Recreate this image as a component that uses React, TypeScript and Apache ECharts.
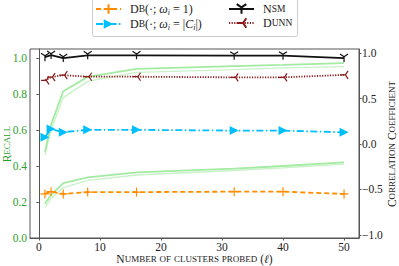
import React, { useEffect, useRef } from "react";
import * as echarts from "echarts";

const xValues = [1, 2, 4, 8, 16, 32, 40, 50];
const db1 = [-0.55, -0.525, -0.55, -0.53, -0.53, -0.525, -0.525, -0.55];
const dbC = [0.075, 0.165, 0.13, 0.155, 0.155, 0.147, 0.147, 0.128];
const nsm = [0.955, 0.978, 0.945, 0.975, 0.975, 0.972, 0.972, 0.945];
const dunn = [0.7, 0.735, 0.757, 0.74, 0.74, 0.733, 0.733, 0.76];
const recallHighA = [0.48, 0.63, 0.815, 0.895, 0.94, 0.955, 0.962, 0.972];
const recallHighB = [0.46, 0.6, 0.78, 0.87, 0.92, 0.935, 0.945, 0.952];
const recallLowA = [0.19, 0.24, 0.305, 0.337, 0.365, 0.385, 0.4, 0.42];
const recallLowB = [0.17, 0.22, 0.28, 0.32, 0.35, 0.375, 0.39, 0.41];
const xTicks = [0, 10, 20, 30, 40, 50];
const leftTicks = [0, 0.2, 0.4, 0.6, 0.8, 1.0];
const rightTicks = [-1, -0.5, 0, 0.5, 1];

const FONT = "Liberation Serif";

function sc(text: string): string {
  let out = "";
  let cur = "";
  let curStyle = "";
  const flush = () => {
    if (cur) out += `{${curStyle}|${cur}}`;
    cur = "";
  };
  for (const ch of text) {
    const isLower = ch >= "a" && ch <= "z";
    const st = isLower ? "s" : "c";
    if (st !== curStyle) {
      flush();
      curStyle = st;
    }
    cur += isLower ? ch.toUpperCase() : ch;
  }
  flush();
  return out;
}

const pair = (ys: number[]) => xValues.map((x, i) => [x, ys[i]]);

const legendNames: Record<string, string> = {
  db1: "{c|D}{s|B}{n|(·; }{m|ω}{sub|i}{n| = 1)}",
  dbC: "{c|D}{s|B}{n|(·; }{m|ω}{sub|i}{n| = |}{m|C}{sub|i}{n||)}",
  nsm: "{c|N}{s|SM}",
  dunn: "{c|D}{s|UNN}",
};

const legendRich = {
  c: { fontFamily: FONT, fontSize: 12, color: "#222", lineHeight: 14 },
  s: { fontFamily: FONT, fontSize: 9.5, color: "#222", lineHeight: 14 },
  n: { fontFamily: FONT, fontSize: 12, color: "#222", lineHeight: 14 },
  m: { fontFamily: FONT, fontSize: 12, fontStyle: "italic", color: "#222", lineHeight: 14 },
  sub: { fontFamily: FONT, fontSize: 8, fontStyle: "italic", color: "#222", lineHeight: 14, verticalAlign: "bottom" },
};

const nameRich = (color: string) => ({
  c: { fontFamily: FONT, fontSize: 11.5, fill: color, color, lineHeight: 9 },
  s: { fontFamily: FONT, fontSize: 9, fill: color, color, lineHeight: 9 },
  m: { fontFamily: FONT, fontSize: 11.5, fontStyle: "italic", fill: color, color, lineHeight: 9 },
});

const triDown = "path://M5,5L5,10M5,5L0.7,2.5M5,5L9.3,2.5";
const triLeft = "path://M5,5L0,5M5,5L7.5,0.7M5,5L7.5,9.3";

export default function App() {
  const ref = useRef<HTMLDivElement>(null);
  useEffect(() => {
    if (!ref.current) return;
    const chart = echarts.init(ref.current, undefined, { renderer: "svg" });
    const greenLine = (name: string, ys: number[], color: string, w: number) => ({
      name,
      type: "line",
      yAxisIndex: 0,
      data: pair(ys),
      showSymbol: false,
      symbol: "none",
      lineStyle: { color, width: w },
      z: 1,
      silent: true,
    });
    const legendCommon = {
      orient: "vertical",
      top: 3,
      padding: 0,
      itemGap: 2,
      itemWidth: 25,
      itemHeight: 12,
      formatter: (n: string) => legendNames[n],
      textStyle: { rich: legendRich, padding: [0, 0, 0, 4] },
      z: 6,
    };
    const axisName = (text: string, x: number, y: number, rot: number, color: string) => ({
      type: "text",
      x,
      y,
      rotation: rot,
      z: 6,
      style: {
        text,
        rich: nameRich(color),
        fill: color,
        lineHeight: 9,
        align: "center",
        verticalAlign: "middle",
      },
    });
    chart.setOption({
      animation: false,
      backgroundColor: "#fff",
      grid: {
        left: 30,
        right: 40,
        top: 49,
        bottom: 28,
        show: true,
        borderColor: "#555",
        borderWidth: 1,
        containLabel: false,
        outerBoundsMode: "none",
      },
      graphic: [
        {
          type: "rect",
          shape: { x: 92.5, y: -3, width: 205, height: 39.5, r: 2 },
          style: { fill: "#fff", stroke: "#ccc", lineWidth: 1 },
          z: 4,
        },
        axisName(sc("Number of clusters probed (") + "{m|ℓ}" + sc(")"), 194.5, 258.5, 0, "#222"),
        axisName(sc("Recall"), 7, 144, Math.PI / 2, "#2ca02c"),
        axisName(sc("Correlation Coefficient"), 391.5, 144, Math.PI / 2, "#222"),
      ],
      legend: [
        { ...legendCommon, data: ["db1", "dbC"], left: 95 },
        { ...legendCommon, data: ["nsm", "dunn"], left: 228 },
      ],
      xAxis: {
        type: "value",
        min: -1.45,
        max: 52.45,
        splitLine: { show: false },
        axisLine: { show: true, lineStyle: { color: "#555" } },
        axisTick: { show: true, length: 2.5, customValues: xTicks, lineStyle: { color: "#555" } },
        axisLabel: {
          show: true,
          customValues: xTicks,
          margin: 3,
          fontFamily: FONT,
          fontSize: 11.5,
          lineHeight: 11,
          color: "#222",
        },
      },
      yAxis: [
        {
          type: "value",
          min: 0,
          max: 1.05,
          position: "left",
          splitLine: { show: false },
          axisLine: { show: true, lineStyle: { color: "#555" } },
          axisTick: { show: true, length: 2.5, customValues: leftTicks, lineStyle: { color: "#555" } },
          axisLabel: {
            customValues: leftTicks,
            margin: 3,
            fontFamily: FONT,
            fontSize: 11.5,
            color: "#2ca02c",
            formatter: (v: number) => v.toFixed(1),
          },
        },
        {
          type: "value",
          min: -1.035,
          max: 1.045,
          position: "right",
          splitLine: { show: false },
          axisLine: { show: true, lineStyle: { color: "#555" } },
          axisTick: { show: true, length: 2.5, customValues: rightTicks, lineStyle: { color: "#555" } },
          axisLabel: {
            customValues: rightTicks,
            margin: 3,
            fontFamily: FONT,
            fontSize: 11.5,
            color: "#222",
            formatter: (v: number) => (v < 0 ? "\u2212" + Math.abs(v).toFixed(1) : v.toFixed(1)),
          },
        },
      ],
      series: [
        greenLine("recallHighB", recallHighB, "#c8f2c8", 1.3),
        greenLine("recallHighA", recallHighA, "#a3eaa3", 1.8),
        greenLine("recallLowB", recallLowB, "#c8f2c8", 1.3),
        greenLine("recallLowA", recallLowA, "#a3eaa3", 1.8),
        {
          name: "db1",
          type: "line",
          yAxisIndex: 1,
          data: pair(db1),
          symbol: "path://M5,0L5,10M0,5L10,5",
          symbolSize: 9,
          showSymbol: true,
          lineStyle: { color: "#ff8c00", width: 1.8, type: [5, 3] },
          itemStyle: { color: "#ff8c00", borderColor: "#ff8c00", borderWidth: 1.2 },
          z: 3,
        },
        {
          name: "dbC",
          type: "line",
          yAxisIndex: 1,
          data: pair(dbC),
          symbol: "triangle",
          symbolRotate: -90,
          symbolSize: 9,
          showSymbol: true,
          lineStyle: { color: "#00bfff", width: 1.8, type: [7, 2.5, 1.5, 2.5] },
          itemStyle: { color: "#00bfff", borderWidth: 0 },
          z: 3,
        },
        {
          name: "nsm",
          type: "line",
          yAxisIndex: 1,
          data: pair(nsm),
          symbol: triDown,
          symbolSize: 8,
          showSymbol: true,
          lineStyle: { color: "#111", width: 1.8 },
          itemStyle: { color: "#111", borderColor: "#111", borderWidth: 1.2 },
          z: 3,
        },
        {
          name: "dunn",
          type: "line",
          yAxisIndex: 1,
          data: pair(dunn),
          symbol: triLeft,
          symbolSize: 8,
          showSymbol: true,
          lineStyle: { color: "#8b1a1a", width: 1.8, type: [1.2, 1.4] },
          itemStyle: { color: "#8b1a1a", borderColor: "#8b1a1a", borderWidth: 1.2 },
          z: 3,
        },
      ],
    });
    return () => chart.dispose();
  }, []);
  return <div ref={ref} style={{ width: 399, height: 266, position: "absolute", left: 0, top: 0 }} />;
}
